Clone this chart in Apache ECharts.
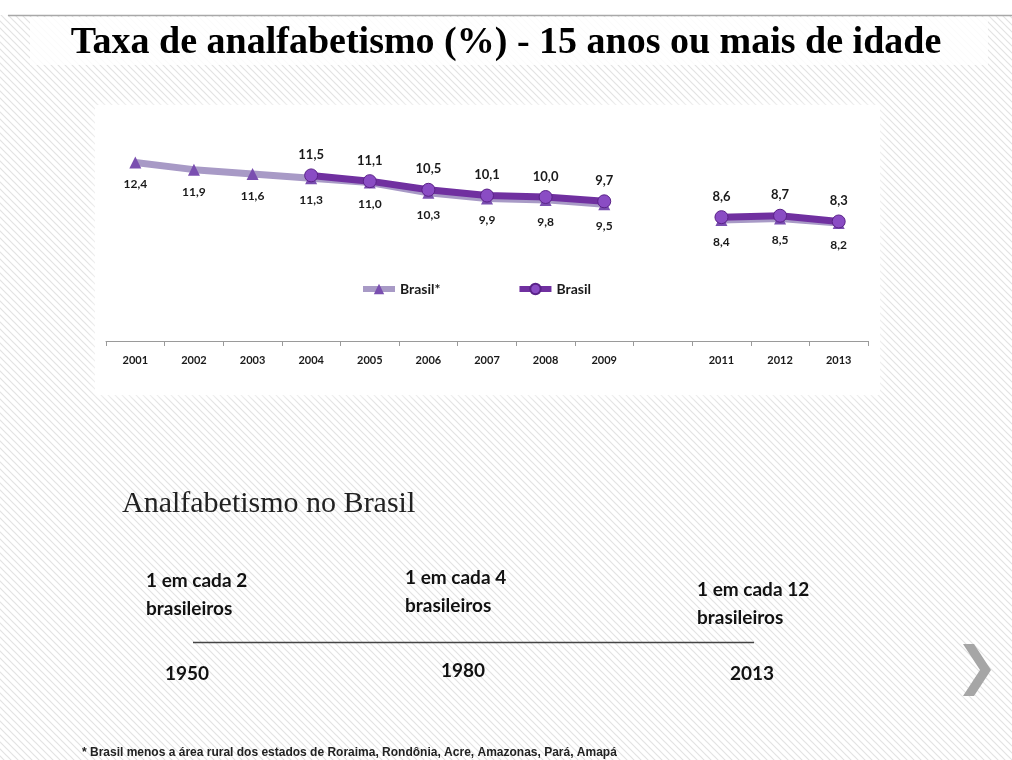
<!DOCTYPE html>
<html>
<head>
<meta charset="utf-8">
<script src="https://cdn.jsdelivr.net/npm/echarts@6/dist/echarts.min.js"></script>
<style>
  html, body { margin: 0; padding: 0; background: #fff; }
  #chart { width: 1012px; height: 760px; }
</style>
</head>
<body>
<div id="chart"></div>
<script>
// anos (2010 sem pesquisa -> categoria vazia)
const years = ['2001', '2002', '2003', '2004', '2005', '2006', '2007', '2008', '2009', '', '2011', '2012', '2013'];
// Brasil* (sem área rural da região Norte)
const brasilStar = [12.4, 11.9, 11.6, 11.3, 11.0, 10.3, 9.9, 9.8, 9.5, null, 8.4, 8.5, 8.2];
// Brasil
const brasil = [null, null, null, 11.5, 11.1, 10.5, 10.1, 10.0, 9.7, null, 8.6, 8.7, 8.3];

const timelineYears = ['1950', '1980', '2013'];
const timelineTexts = ['1 em cada 2\nbrasileiros', '1 em cada 4\nbrasileiros', '1 em cada 12\nbrasileiros'];

const TEXT_DARK = '#1a1a1a';
const SANS = 'Lato, "Open Sans", sans-serif';

// fundo hachurado do slide
const makeHatch = () => {
  const c = document.createElement('canvas');
  c.width = 7;
  c.height = 7;
  const ctx = c.getContext('2d');
  ctx.fillStyle = '#ffffff';
  ctx.fillRect(0, 0, 7, 7);
  ctx.strokeStyle = '#e3e3e3';
  ctx.lineWidth = 1.2;
  ctx.beginPath();
  ctx.moveTo(-1, -1);
  ctx.lineTo(8, 8);
  ctx.moveTo(-1, 6);
  ctx.lineTo(1, 8);
  ctx.moveTo(6, -1);
  ctx.lineTo(8, 1);
  ctx.stroke();
  return c;
};

const fmt = (p) => (p.value == null ? '' : Number(p.value).toFixed(1).replace('.', ','));

const chart = echarts.init(document.getElementById('chart'));

const option = {
  animation: false,
  backgroundColor: { image: makeHatch(), repeat: 'repeat' },
  legend: {
    top: 277,
    left: 355,
    itemGap: 76,
    itemWidth: 32,
    itemHeight: 13,
    lineStyle: { width: 6 },
    textStyle: { color: TEXT_DARK, fontFamily: SANS, fontWeight: 'bold', fontSize: 14 },
    data: ['Brasil*', 'Brasil'],
  },
  grid: {
    left: 106,
    right: 144,
    top: 125,
    height: 216,
    containLabel: false,
  },
  xAxis: {
    type: 'category',
    data: years,
    boundaryGap: true,
    axisLine: { lineStyle: { color: '#9a9a9a', width: 1 } },
    axisTick: { show: true, length: 5, lineStyle: { color: '#9a9a9a' } },
    axisLabel: { color: TEXT_DARK, fontFamily: SANS, fontWeight: 'bold', fontSize: 11, margin: 14 },
  },
  yAxis: {
    type: 'value',
    min: 0,
    max: 15,
    show: false,
  },
  graphic: [
    // faixa branca no topo
    { type: 'rect', z: -10, shape: { x: 0, y: 0, width: 1012, height: 15 }, style: { fill: '#ffffff' } },
    { type: 'line', z: -9, shape: { x1: 8, y1: 15.5, x2: 1012, y2: 15.5 }, style: { stroke: '#a8a8a8', lineWidth: 1.5 } },
    { type: 'rect', z: -9, shape: { x: 30, y: 17, width: 958, height: 48 }, style: { fill: 'rgba(255,255,255,0.85)' } },
    {
      type: 'text', z: 5, left: 'center', top: 24,
      style: {
        text: 'Taxa de analfabetismo (%) - 15 anos ou mais de idade',
        fill: '#000', font: 'bold 38px "Liberation Serif", serif',
      },
    },
    // painel do gráfico
    {
      type: 'rect', z: -8, shape: { x: 95, y: 105, width: 785, height: 290 },
      style: { fill: 'rgba(255,255,255,0.96)', shadowBlur: 10, shadowColor: 'rgba(255,255,255,0.9)' },
    },
    // bloco inferior
    {
      type: 'text', left: 122, top: 489,
      style: { text: 'Analfabetismo no Brasil', fill: '#222', font: '30px "Liberation Serif", serif' },
    },
    {
      type: 'text', left: 146, top: 567,
      style: { text: timelineTexts[0], fill: '#111', font: 'bold 19px ' + SANS, lineHeight: 28 },
    },
    {
      type: 'text', left: 405, top: 564,
      style: { text: timelineTexts[1], fill: '#111', font: 'bold 19px ' + SANS, lineHeight: 28 },
    },
    {
      type: 'text', left: 697, top: 576,
      style: { text: timelineTexts[2], fill: '#111', font: 'bold 19px ' + SANS, lineHeight: 28 },
    },
    { type: 'line', shape: { x1: 193, y1: 642.5, x2: 754, y2: 642.5 }, style: { stroke: '#444', lineWidth: 1.3 } },
    { type: 'text', left: 165, top: 664, style: { text: timelineYears[0], fill: '#111', font: 'bold 19px ' + SANS } },
    { type: 'text', left: 441, top: 661, style: { text: timelineYears[1], fill: '#111', font: 'bold 19px ' + SANS } },
    { type: 'text', left: 730, top: 664, style: { text: timelineYears[2], fill: '#111', font: 'bold 19px ' + SANS } },
    // seta
    {
      type: 'polygon',
      shape: { points: [[963, 644], [974, 644], [991, 670], [974, 696], [963, 696], [980, 670]] },
      style: { fill: '#a6a6a6' },
    },
    // nota
    {
      type: 'text', left: 82, top: 747,
      style: {
        text: '* Brasil menos a área rural dos estados de Roraima, Rondônia, Acre, Amazonas, Pará, Amapá',
        fill: '#222', font: 'bold 12px "Liberation Sans", Arial, sans-serif',
      },
    },
  ],
  series: [
    {
      name: 'Brasil*',
      type: 'line',
      data: brasilStar,
      connectNulls: false,
      z: 2,
      symbol: 'triangle',
      symbolSize: 12,
      lineStyle: { color: '#a89ac6', width: 7 },
      itemStyle: { color: '#7a4fb0' },
      label: {
        show: true,
        position: 'bottom',
        distance: 10,
        formatter: fmt,
        color: TEXT_DARK,
        fontFamily: SANS,
        fontWeight: 'bold',
        fontSize: 12,
      },
    },
    {
      name: 'Brasil',
      type: 'line',
      data: brasil,
      connectNulls: false,
      z: 3,
      symbol: 'circle',
      symbolSize: 13,
      lineStyle: { color: '#7030a0', width: 7 },
      itemStyle: { color: '#8a4cc4', borderColor: '#5a2288', borderWidth: 1 },
      label: {
        show: true,
        position: 'top',
        distance: 7,
        formatter: fmt,
        color: TEXT_DARK,
        fontFamily: SANS,
        fontWeight: 'bold',
        fontSize: 13,
      },
    },
  ],
};

chart.setOption(option);
</script>
</body>
</html>
